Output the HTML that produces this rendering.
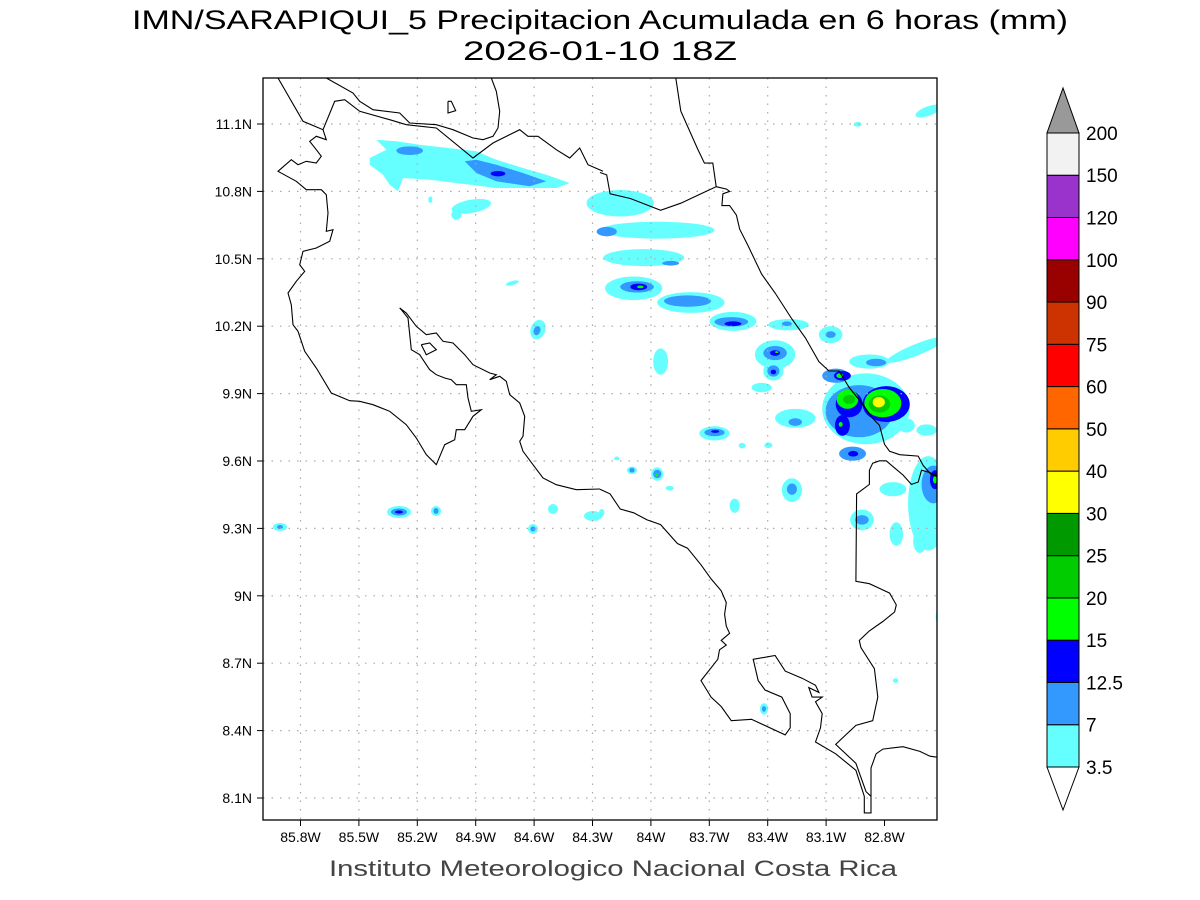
<!DOCTYPE html>
<html><head><meta charset="utf-8">
<style>
html,body{margin:0;padding:0;background:#fff;}
svg{display:block;font-family:"Liberation Sans",sans-serif;}
</style></head>
<body>
<svg id="s" width="1200" height="900" viewBox="0 0 1200 900" xmlns="http://www.w3.org/2000/svg">
<rect width="1200" height="900" fill="#fff"/>
<text x="600" y="29" font-size="27" text-anchor="middle" fill="#000" textLength="936" lengthAdjust="spacingAndGlyphs">IMN/SARAPIQUI_5 Precipitacion Acumulada en 6 horas (mm)</text>
<text x="600" y="60" font-size="27" text-anchor="middle" fill="#000" textLength="274" lengthAdjust="spacingAndGlyphs">2026-01-10 18Z</text>
<defs><clipPath id="c"><rect x="263" y="78" width="674" height="742"/></clipPath></defs>
<g id="blobs" clip-path="url(#c)"></g>
<g id="grid" stroke="#aaa" stroke-width="1.2" stroke-dasharray="1.5,7"></g>
<g id="coast" clip-path="url(#c)" fill="none" stroke="#000" stroke-width="1.1"></g>
<rect x="263" y="78" width="674" height="742" fill="none" stroke="#000" stroke-width="1.3"/>
<g id="ticks" font-size="14" fill="#000"></g>
<text x="613" y="876" font-size="22" text-anchor="middle" fill="#444" textLength="568" lengthAdjust="spacingAndGlyphs">Instituto Meteorologico Nacional Costa Rica</text>
<g id="cbar"></g>
</svg>
<script>
var NS="http://www.w3.org/2000/svg";
function el(t,a,p){var e=document.createElementNS(NS,t);for(var k in a)e.setAttribute(k,a[k]);document.getElementById(p).appendChild(e);return e;}
function z1(p){return [p[0]/3+263,p[1]/3+78];}
function z2(p){return [p[0]/2.97+600,p[1]/2.116+78];}
function poly(pts,f,par,attrs){var s=pts.map(function(p){var q=f(p);return q[0].toFixed(1)+","+q[1].toFixed(1);}).join(" ");var a={points:s};for(var k in attrs)a[k]=attrs[k];el("polyline",a,par);}
function pgon(pts,f,col){var s=pts.map(function(p){var q=f(p);return q[0].toFixed(1)+","+q[1].toFixed(1);}).join(" ");el("polygon",{points:s,fill:col},"blobs");}
var C={c:"#66ffff",b:"#3399ff",d:"#0000ff",g:"#00ff00",m:"#00cc00",k:"#009900",y:"#ffff00"};
var lx=[],ly=[];
for(var i=0;i<10;i++)lx.push(300.5+i*58.4);
for(var j=0;j<11;j++)ly.push(124+j*67.4);
lx.forEach(function(x){el("line",{x1:x,y1:78,x2:x,y2:820},"grid");});
ly.forEach(function(y){el("line",{x1:263,y1:y,x2:937,y2:y},"grid");});
var lonL=["85.8W","85.5W","85.2W","84.9W","84.6W","84.3W","84W","83.7W","83.4W","83.1W","82.8W"];
for(var i=0;i<11;i++){var x=300.5+i*58.4;el("line",{x1:x,y1:820,x2:x,y2:826,stroke:"#000"},"ticks");var t=el("text",{x:x,y:842,"text-anchor":"middle"},"ticks");t.textContent=lonL[i];}
var latL=["11.1N","10.8N","10.5N","10.2N","9.9N","9.6N","9.3N","9N","8.7N","8.4N","8.1N"];
for(var j=0;j<11;j++){var y=124+j*67.4;el("line",{x1:257,y1:y,x2:263,y2:y,stroke:"#000"},"ticks");var t=el("text",{x:252,y:y+5,"text-anchor":"end"},"ticks");t.textContent=latL[j];}
pgon([[340,185],[400,190],[470,200],[640,220],[700,245],[780,270],[850,290],[920,315],[880,330],[700,330],[500,305],[420,300],[405,340],[380,320],[360,290],[320,260],[320,240],[370,215]],z1,C.c);
pgon([[605,250],[640,245],[700,260],[780,285],[850,310],[800,325],[700,310],[640,285]],z1,C.b);
function e1(cx,cy,rx,ry,col,rot){var q=z1([cx,cy]);el("ellipse",{cx:q[0],cy:q[1],rx:rx/3,ry:ry/3,fill:col,transform:rot?"rotate("+rot+" "+q[0]+" "+q[1]+")":""},"blobs");}
function e2(cx,cy,rx,ry,col,rot){var q=z2([cx,cy]);el("ellipse",{cx:q[0],cy:q[1],rx:rx/2.97,ry:ry/2.116,fill:col,transform:rot?"rotate("+rot+" "+q[0]+" "+q[1]+")":""},"blobs");}
function e0(cx,cy,rx,ry,col){el("ellipse",{cx:cx,cy:cy,rx:rx,ry:ry,fill:col},"blobs");}
e1(440,218,40,13,C.b);e1(705,287,22,8,C.d);
e1(625,385,60,20,C.c,-10);e1(580,410,15,15,C.c);e1(502,365,6,10,C.c);e1(748,615,20,6,C.c,-15);
e1(825,755,22,30,C.c,20);e1(822,758,10,14,C.b,20);
var B=[
[60,265,100,28,"c"],[170,322,170,18,"c"],[20,325,30,10,"b"],
[130,380,120,18,"c"],[210,392,25,5,"b"],
[100,445,85,25,"c"],[110,442,50,12,"b"],[115,442,25,7,"d"],[120,442,10,3,"g"],
[270,475,100,22,"c"],[260,472,70,12,"b"],
[395,515,70,20,"c"],[390,516,50,10,"b"],[395,520,25,5,"d"],
[560,522,60,12,"c"],[555,520,15,5,"b"],
[685,543,35,18,"c"],[685,543,15,7,"b"],
[180,600,22,28,"c"],
[520,585,60,30,"c"],[520,582,35,15,"b"],[520,582,15,6,"d"],[525,580,5,2,"g"],
[515,620,30,20,"c"],[515,620,18,12,"b"],[515,622,8,5,"d"],
[480,655,30,10,"c"],
[800,600,60,15,"c"],[820,602,30,8,"b"],
[765,98,12,5,"c"],
[790,700,130,75,"c"],[580,720,60,20,"c"],[580,728,20,8,"b"],
[770,705,100,55,"b"],[700,630,40,15,"b"],[720,630,25,10,"d"],[712,630,10,5,"g"],
[740,690,40,28,"d"],[850,690,70,38,"d"],[735,680,32,20,"g"],[840,688,55,30,"g"],[740,680,18,10,"m"],[830,690,32,18,"m"],[828,686,18,11,"y"],
[720,735,22,22,"d"],[715,733,6,5,"g"],[750,795,40,15,"b"],[752,795,15,6,"d"],
[910,735,25,15,"c"],[970,745,30,12,"c"],
[340,752,45,15,"c"],[340,750,30,8,"b"],[342,748,12,3,"d"],
[422,778,10,6,"c"],[500,777,12,6,"c"],
[570,872,30,25,"c"],[570,870,15,12,"b"],
[400,905,15,15,"c"],
[778,935,35,22,"c"],[778,935,20,10,"b"],
[880,965,20,25,"c"],[950,980,20,25,"c"],[870,870,40,15,"c"],
[975,900,60,100,"c"],[990,860,35,40,"b"],[995,850,15,20,"d"],[995,850,6,8,"g"],
[1005,1140,8,15,"c"],[878,1275,8,5,"c"],
[487,1335,12,12,"c"],[487,1335,6,6,"b"],
[95,830,15,8,"c"],[95,830,8,5,"b"],[170,838,18,14,"c"],[170,838,12,9,"b"],[168,840,4,3,"g"],
[207,868,12,5,"c"],[50,805,8,4,"c"],[5,920,8,8,"c"]];
B.forEach(function(b){e2(b[0],b[1],b[2],b[3],C[b[4]]);});
e2(940,575,95,12,C.c,-22);e2(975,70,40,10,C.c,-20);
e0(280,527,7,4,C.c);e0(280,527,3,2,C.b);
e0(399,512,12,6,C.c);e0(399,512,8,3.5,C.b);e0(399,512,4,1.5,C.d);
e0(436,511,5,5,C.c);e0(436,511,2.5,3,C.b);
e0(533,529,5,5,C.c);e0(533,529,2.5,2.5,C.b);
e0(553,509,5,5,C.c);e0(593,516,9,5,C.c);
var L1=[[45,0],[120,130],[180,155],[215,70],[245,65],[290,100],[380,125],[430,140],[520,150],[630,240],[690,195],[770,155],[795,175],[825,175],[880,215],[920,240],[950,210],[975,260],[1020,280]];
poly(L1,z1,"coast");
poly([[0,200],[20,205],[30,245],[90,255],[180,280],[240,265],[300,245],[345,230],[335,180],[310,180],[290,150],[240,70],[225,0]],z2,"coast");
poly([[190,0],[270,45],[290,70],[330,95],[410,105],[440,135],[520,140],[570,155],[630,180],[660,185],[690,175],[705,150],[710,100],[700,40],[685,0]],z1,"coast");
poly([[555,70],[565,70],[578,98],[555,105],[555,70]],z1,"coast");
poly([[180,155],[190,185],[160,175],[140,190],[160,215],[175,235],[160,255],[130,250],[105,260],[85,245],[45,280],[100,310],[130,335],[175,335],[190,350],[195,405],[190,460],[210,455],[200,490],[160,510],[120,520],[110,560],[125,580],[100,610],[75,645],[85,680],[90,740],[105,760],[125,820],[160,870],[205,945],[260,968],[290,970],[330,980],[380,1000],[430,1040],[460,1080],[490,1130],[520,1160],[545,1100],[575,1085],[580,1055],[605,1055],[630,1015],[655,995],[625,1000],[615,960],[610,920],[580,920],[565,905],[545,900],[520,890],[500,875],[490,860],[470,830],[445,815],[435,720],[415,695],[410,690],[430,705],[460,745],[490,770],[520,765],[540,790],[570,795],[605,830],[630,860],[680,885],[700,890],[680,905],[710,895],[730,910],[740,950],[770,975],[785,1015],[780,1075],[770,1090],[780,1120],[810,1160],[840,1200],[880,1220],[940,1235],[1011,1233]],z1,"coast");
poly([[475,800],[500,795],[520,815],[490,830],[475,800]],z1,"coast");
poly([[0,870],[30,880],[60,912],[100,920],[140,935],[180,945],[230,985],[260,995],[300,1030],[330,1060],[360,1085],[375,1110],[370,1135],[375,1160],[385,1175],[360,1190],[375,1200],[355,1210],[350,1230],[300,1275],[330,1310],[360,1330],[390,1360],[450,1357],[550,1390],[565,1375],[565,1345],[540,1310],[490,1295],[470,1275],[455,1230],[520,1222],[550,1255],[600,1270],[640,1285],[650,1300],[620,1290],[630,1310],[660,1310],[640,1320],[660,1345],[655,1375],[640,1405],[700,1430],[760,1465],[785,1520],[785,1555],[805,1555],[805,1520],[790,1510],[760,1450],[700,1410],[760,1370],[810,1360],[825,1310],[815,1250],[775,1205],[770,1190],[800,1170],[840,1150],[875,1130],[880,1115],[860,1090],[830,1080],[800,1070],[760,1065],[762,880],[800,860],[800,830],[810,815],[830,810],[850,810],[875,825],[900,840],[925,860],[945,855],[955,830],[980,835],[1011,845]],z2,"coast");
poly([[1011,1438],[980,1435],[950,1425],[900,1415],[840,1420],[820,1430],[805,1460],[805,1520]],z2,"coast");
poly([[345,230],[376,235],[385,240],[365,245],[362,270],[385,270],[405,290],[415,320],[440,355],[480,415],[520,455],[570,510],[610,550],[650,600],[680,620],[710,620],[740,655],[780,690],[810,720],[830,735],[845,775],[860,790],[890,797],[945,800],[960,820],[985,840],[1011,845]],z2,"coast");
var cols=["#66ffff","#3399ff","#0000ff","#00ff00","#00cc00","#009900","#ffff00","#ffcc00","#ff6600","#ff0000","#cc3300","#990000","#ff00ff","#9933cc","#f2f2f2"];
var labs=["3.5","7","12.5","15","20","25","30","40","50","60","75","90","100","120","150","200"];
var y0=767,h=42.27;
el("polygon",{points:"1047,"+y0+" 1079,"+y0+" 1063,810",fill:"#fff",stroke:"#000","stroke-width":1},"cbar");
for(var i=0;i<15;i++){el("rect",{x:1047,y:y0-(i+1)*h,width:32,height:h,fill:cols[i],stroke:"#000","stroke-width":1},"cbar");}
var yt=y0-15*h;
el("polygon",{points:"1047,"+yt+" 1079,"+yt+" 1063,88",fill:"#999",stroke:"#000","stroke-width":1},"cbar");
for(var i=0;i<16;i++){var t=el("text",{x:1086,y:y0-i*h+7,"font-size":19,fill:"#000"},"cbar");t.textContent=labs[i];}
</script>
</body></html>
